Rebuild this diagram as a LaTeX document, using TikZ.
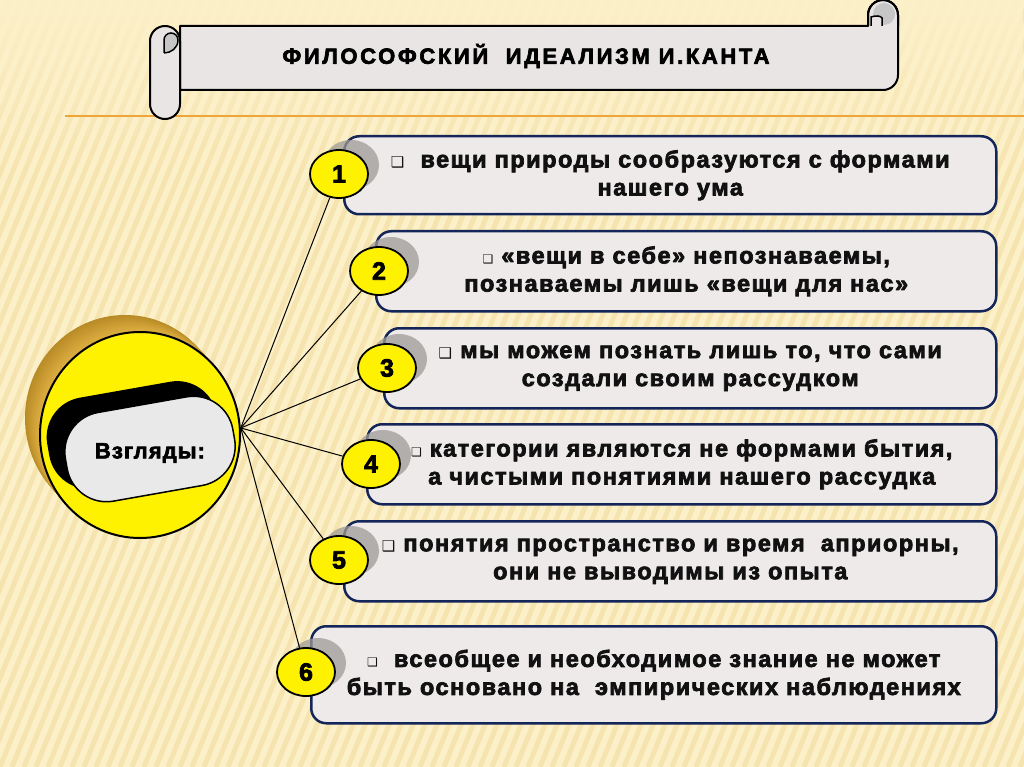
\documentclass[tikz,border=0pt]{standalone}
\usepackage{fontspec}
\setmainfont{Liberation Sans}
\newfontfamily\djv{DejaVu Sans}
\usetikzlibrary{shapes.geometric,fadings}

\definecolor{bg}{HTML}{FCF0C9}
\definecolor{stripe}{HTML}{F2DA98}
\definecolor{boxfill}{HTML}{EEEAEA}
\definecolor{boxdraw}{HTML}{14255A}
\definecolor{scrollfill}{HTML}{EAE5E5}
\definecolor{orangeline}{HTML}{EFA53A}
\definecolor{gold}{HTML}{E2B445}
\definecolor{golddark}{HTML}{A87A1A}
\definecolor{shadowgray}{HTML}{9E9A96}
\definecolor{capfill}{HTML}{E9E9E9}
\definecolor{inkk}{HTML}{111111}

\newcommand\boxfont{\fontsize{23.5}{28}\selectfont\bfseries\addfontfeature{LetterSpace=6.5,FakeBold=3}\color{inkk}}
\newcommand\titlefont{\fontsize{22}{24}\selectfont\bfseries\addfontfeature{LetterSpace=12,FakeBold=3}}
\newcommand\numfont{\fontsize{25}{25}\selectfont\bfseries\addfontfeature{FakeBold=3}}
\newcommand\viewfont{\fontsize{22}{24}\selectfont\bfseries\addfontfeature{LetterSpace=5,FakeBold=3}}
\newcommand\bulbig{{\djv\fontsize{15}{15}\selectfont ❑}}
\newcommand\bulsmall{{\djv\fontsize{12}{12}\selectfont ❑}}

\begin{document}
\begin{tikzpicture}[x=1pt,y=-1pt,
 box/.style={draw=boxdraw, line width=2.5pt, fill=boxfill, rounded corners=15pt,
   anchor=north west, inner sep=0pt, align=center, font=\boxfont},
 numc/.style={ellipse, draw=black, line width=1.8pt, fill=yellow, minimum width=58pt,
   minimum height=48pt, inner sep=0pt, font=\numfont},
 numshadow/.style={ellipse, fill=shadowgray, opacity=0.75, minimum width=56pt,
   minimum height=50pt, inner sep=0pt},
 link/.style={draw=black, line width=1pt}]

\useasboundingbox (0,0) rectangle (1024,767);
\fill[bg] (0,0) rectangle (1024,767);
\begin{scope}
  \clip (0,0) rectangle (1024,767);
  \foreach \i in {-30,...,90}
    \draw[stripe, line width=5pt, opacity=0.5] ({\i*12},767) -- ({\i*12+310},0);
\end{scope}
\fill[bg, path fading=south] (0,0) rectangle (1024,170);

% orange rule
\draw[orangeline, line width=2.5pt] (65,116) -- (1024,116);

% title scroll
\draw[fill=scrollfill, line width=2pt, line join=round]
  (180,26) -- (868,26) -- (868,15) arc[start angle=180, end angle=360, radius=15]
  -- (898,75) arc[start angle=0, end angle=90, radius=15] -- (180,90) -- cycle;
\fill[gray!45] (884,14) circle[radius=11];
\draw[fill=scrollfill, line width=1.5pt] (871,26) -- (871,17) .. controls (876,15) and (881,16) .. (882,18) -- (882,26);
\draw[line width=2pt] (868,26) -- (868,15) arc[start angle=180, end angle=360, radius=15] -- (898,26);
\draw[fill=scrollfill, line width=2pt, rounded corners=15pt] (150,26) rectangle (180,119);
\draw[fill=gray!45, line width=1.5pt] (164,53) -- (164,40) arc[start angle=180, end angle=360, radius=7]
  .. controls (178,48) and (171,53) .. (164,53);
\node[font=\titlefont] (title) at (526,56) {ФИЛОСОФСКИЙ\ \ ИДЕАЛИЗМ И.КАНТА};

% coin
\foreach \i in {0,...,16} {
  \pgfmathtruncatemacro\p{30+\i*4}
  \fill[gold!\p!golddark] ({125+\i*15/16},{418+\i*17/16}) ellipse[x radius=100, y radius=103];
}
\node[ellipse, draw=black, line width=2pt, fill=yellow, minimum width=200pt,
  minimum height=206pt, inner sep=0pt] (coin) at (140,435) {};
\node[fill=black, rounded corners=40pt, minimum width=172pt, minimum height=92pt,
  rotate=10] (capback) at (133,435) {};
\node[fill=capfill, draw=black, line width=1.5pt, rounded corners=40pt,
  minimum width=170pt, minimum height=90pt, rotate=10] (cap) at (150,449) {};
\node[font=\viewfont] (view) at (150,453) {Взгляды:};
\coordinate (hub) at (coin.4);

% boxes
\node[box, minimum width=652pt, minimum height=78pt] (b1) at (343,135)
  {\bulbig~ вещи природы сообразуются с формами\\нашего ума};
\node[box, minimum width=620pt, minimum height=80pt] (b2) at (375,230)
  {\bulsmall\ «вещи в себе» непознаваемы,\\познаваемы лишь «вещи для нас»};
\node[box, minimum width=612pt, minimum height=80pt] (b3) at (383,327)
  {\bulbig\ мы можем познать лишь то, что сами\\создали своим рассудком};
\node[box, minimum width=629pt, minimum height=80pt] (b4) at (366,423)
  {\bulsmall\ категории являются не формами бытия,\\а чистыми понятиями нашего рассудка};
\node[box, minimum width=652pt, minimum height=80pt] (b5) at (343,520)
  {\bulbig\ понятия пространство и время\ \ априорны,\\они не выводимы из опыта};
\node[box, minimum width=685pt, minimum height=97pt] (b6) at (310,625)
  {\bulsmall\ \ всеобщее и необходимое знание не может\\быть основано на\ \ эмпирических наблюдениях};

% number badges
\foreach \n/\x/\y in {1/339/174, 2/379/271, 3/387/368, 4/371/464, 5/339/560, 6/306/672} {
  \node[numshadow] (s\n) at (\x+12,\y-9) {};
}
\foreach \n/\x/\y in {1/339/174, 2/379/271, 3/387/368, 4/371/464, 5/339/560, 6/306/672} {
  \node[numc] (c\n) at (\x,\y) {\n};
  \draw[link] (hub) -- (c\n);
}
\end{tikzpicture}
\end{document}
